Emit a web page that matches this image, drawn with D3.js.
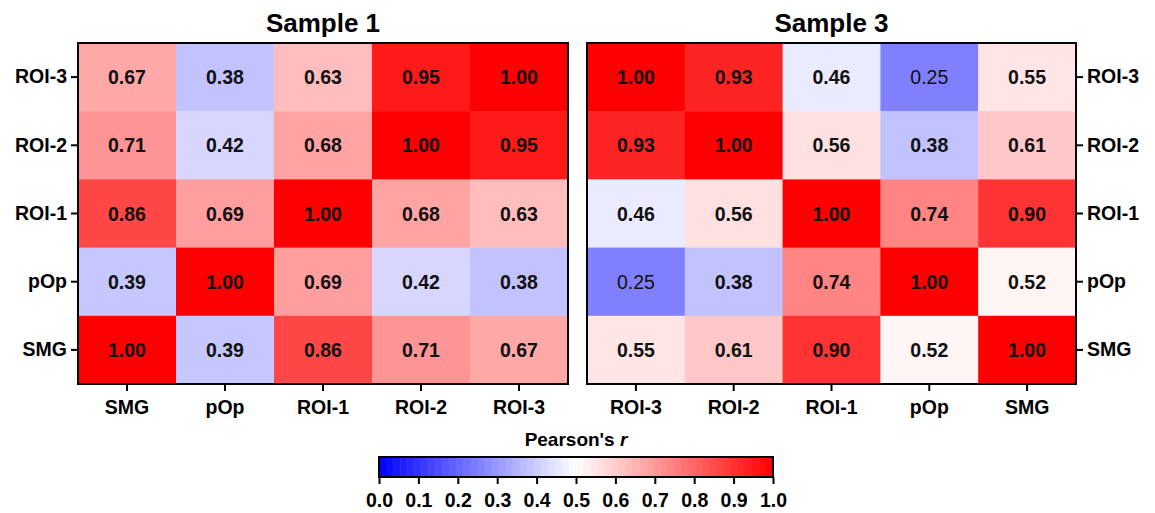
<!DOCTYPE html>
<html>
<head>
<meta charset="utf-8">
<script src="https://cdn.jsdelivr.net/npm/d3@7"></script>
<style>
  body { margin: 0; background: #fff; }
  text { font-family: "Liberation Sans", Arial, sans-serif; }
</style>
</head>
<body>
<svg id="chart" width="1155" height="513"></svg>
<script>
// data
const rowsS1 = ['ROI-3', 'ROI-2', 'ROI-1', 'pOp', 'SMG'];
const colsS1 = ['SMG', 'pOp', 'ROI-1', 'ROI-2', 'ROI-3'];
const valsS1 = [
    [0.67, 0.38, 0.63, 0.95, 1.00],
    [0.71, 0.42, 0.68, 1.00, 0.95],
    [0.86, 0.69, 1.00, 0.68, 0.63],
    [0.39, 1.00, 0.69, 0.42, 0.38],
    [1.00, 0.39, 0.86, 0.71, 0.67]
];

const rowsS3 = ['ROI-3', 'ROI-2', 'ROI-1', 'pOp', 'SMG'];
const colsS3 = ['ROI-3', 'ROI-2', 'ROI-1', 'pOp', 'SMG'];
const valsS3 = [
    [1.00, 0.93, 0.46, 0.25, 0.55],
    [0.93, 1.00, 0.56, 0.38, 0.61],
    [0.46, 0.56, 1.00, 0.74, 0.90],
    [0.25, 0.38, 0.74, 1.00, 0.52],
    [0.55, 0.61, 0.90, 0.52, 1.00]
];

const cbTicks = [0, 0.1, 0.2, 0.3, 0.4, 0.5, 0.6, 0.7, 0.8, 0.9, 1.0];

const svg = d3.select('#chart');
const color = d3.scaleLinear().domain([0, 0.5, 1]).range(['#0000ff', '#ffffff', '#ff0000']);

const plotTop = 43, plotBottom = 384;

function heatmap(cfg){
    const g = svg.append('g');
    const x = d3.scaleBand().domain(cfg.cols).range([cfg.x0, cfg.x1]);
    const y = d3.scaleBand().domain(cfg.rows).range([plotTop, plotBottom]);

    const cells = [];
    cfg.vals.forEach((row, i) => row.forEach((v, j) => cells.push({r: cfg.rows[i], c: cfg.cols[j], v})));

    g.selectAll('rect.cell').data(cells).join('rect')
        .attr('class', 'cell')
        .attr('x', d => x(d.c)).attr('y', d => y(d.r))
        .attr('width', x.bandwidth() + 0.5).attr('height', y.bandwidth() + 0.5)
        .attr('fill', d => color(d.v));

    g.selectAll('text.val').data(cells).join('text')
        .attr('class', 'val')
        .attr('x', d => x(d.c) + x.bandwidth() / 2)
        .attr('y', d => y(d.r) + y.bandwidth() / 2)
        .attr('dy', '0.36em')
        .attr('text-anchor', 'middle')
        .style('font-size', '19.5px')
        .style('font-weight', d => d.v < 0.3 ? 'normal' : 'bold')
        .style('fill', '#111')
        .text(d => d.v.toFixed(2));

    // frame
    g.append('rect')
        .attr('x', cfg.x0).attr('y', plotTop)
        .attr('width', cfg.x1 - cfg.x0).attr('height', plotBottom - plotTop)
        .attr('fill', 'none').attr('stroke', '#000').attr('stroke-width', 2);

    const xAxis = g.append('g').attr('transform', `translate(0,${plotBottom})`)
        .call(d3.axisBottom(x).tickSize(7).tickPadding(9));
    const yAxis = cfg.side === 'left'
        ? g.append('g').attr('transform', `translate(${cfg.x0},0)`).call(d3.axisLeft(y).tickSize(7).tickPadding(4))
        : g.append('g').attr('transform', `translate(${cfg.x1},0)`).call(d3.axisRight(y).tickSize(7).tickPadding(4));

    [xAxis, yAxis].forEach(a => {
        a.select('.domain').remove();
        a.selectAll('line').attr('stroke', '#000').attr('stroke-width', 2);
        a.selectAll('text')
            .style('font-family', '"Liberation Sans", Arial, sans-serif')
            .style('font-size', '19.5px').style('font-weight', 'bold').style('fill', '#000');
    });

    g.append('text')
        .attr('x', (cfg.x0 + cfg.x1) / 2).attr('y', 32)
        .attr('text-anchor', 'middle')
        .style('font-size', '26px').style('font-weight', 'bold')
        .text(cfg.title);
}

heatmap({title: 'Sample 1', rows: rowsS1, cols: colsS1, vals: valsS1, x0: 78, x1: 568, side: 'left'});
heatmap({title: 'Sample 3', rows: rowsS3, cols: colsS3, vals: valsS3, x0: 587, x1: 1076, side: 'right'});

// colour bar
const cb = svg.append('g');
const cbX = d3.scaleLinear().domain([0, 1]).range([379, 773]);
const cbY0 = 457, cbY1 = 477;
const nSteps = 56;
const steps = d3.range(nSteps).map(i => i / nSteps);
cb.selectAll('rect.step').data(steps).join('rect')
    .attr('class', 'step')
    .attr('x', d => cbX(d)).attr('y', cbY0)
    .attr('width', cbX(1 / nSteps) - cbX(0) + 0.5).attr('height', cbY1 - cbY0)
    .attr('fill', d => color(d + 0.5 / nSteps));
cb.append('rect')
    .attr('x', cbX(0)).attr('y', cbY0)
    .attr('width', cbX(1) - cbX(0)).attr('height', cbY1 - cbY0)
    .attr('fill', 'none').attr('stroke', '#000').attr('stroke-width', 2);

const cbAxis = cb.append('g').attr('transform', `translate(0,${cbY1})`)
    .call(d3.axisBottom(cbX).tickValues(cbTicks).tickFormat(d3.format('.1f')).tickSize(7).tickPadding(9));
cbAxis.select('.domain').remove();
cbAxis.selectAll('line').attr('stroke', '#000').attr('stroke-width', 2);
cbAxis.selectAll('text')
    .style('font-family', '"Liberation Sans", Arial, sans-serif')
    .style('font-size', '19.5px').style('font-weight', 'bold').style('fill', '#000');

const cbTitle = cb.append('text')
    .attr('x', cbX(0.5)).attr('y', 446)
    .attr('text-anchor', 'middle')
    .style('font-size', '19px').style('font-weight', 'bold');
cbTitle.append('tspan').text("Pearson's ");
cbTitle.append('tspan').style('font-style', 'italic').text('r');
</script>
</body>
</html>
